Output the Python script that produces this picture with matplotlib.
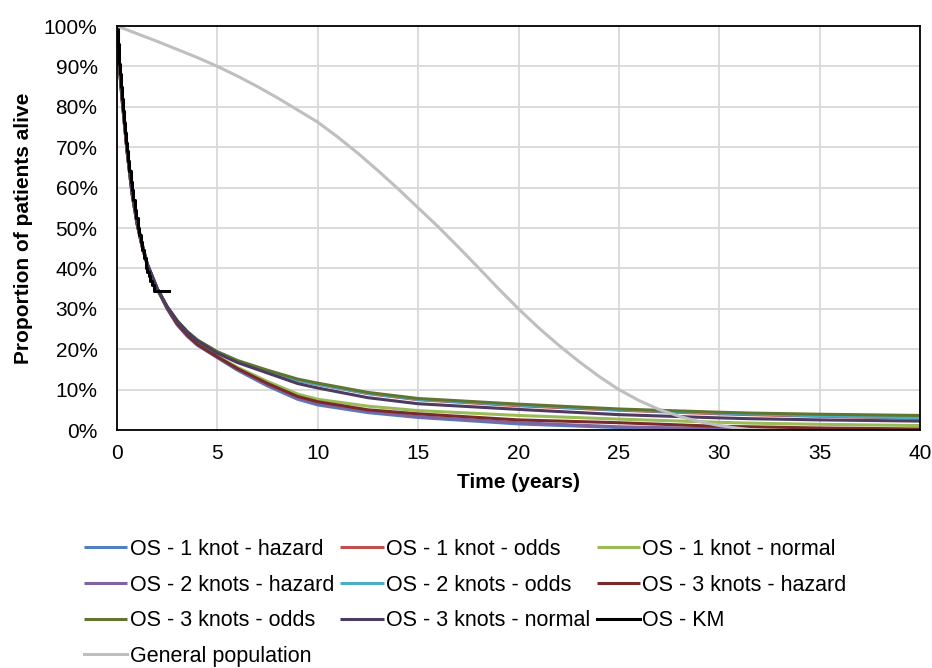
import matplotlib.pyplot as plt
import numpy as np

plt.rcParams["font.family"] = ["Liberation Sans", "DejaVu Sans"]

# model time grid (years) and survival (%)
TIME = [0, 0.1, 0.25, 0.5, 0.75, 1, 1.25, 1.5, 2, 2.5, 3, 3.5, 4, 5, 6, 7.5, 9, 10, 12.5, 15, 20, 25, 30, 31.5, 35, 40]

OS_1K_HAZARD = [100, 91, 82, 69, 58.5, 51, 45.5, 41, 35, 30, 26, 23.2, 21, 17.9, 14.8, 10.9, 7.6, 6.2, 4.3, 3.1, 1.5, 0.6, 0.2, 0.0, np.nan, np.nan]
OS_1K_ODDS = [100, 91.5, 83, 70, 59, 51.5, 46, 41.2, 35, 30.5, 27, 24.3, 22.2, 19.2, 17.0, 14.6, 12.3, 11.3, 9.0, 7.5, 6.0, 4.9, 4.0, 3.8, 3.4, 2.9]
OS_1K_NORMAL = [100, 91, 82, 69, 58.5, 51, 45.5, 41, 35, 30.3, 26.5, 23.8, 21.5, 18.3, 15.5, 12.0, 8.9, 7.6, 5.9, 4.8, 3.6, 2.7, 1.9, 1.7, 1.4, 1.1]
OS_2K_HAZARD = [100, 91, 82, 69, 58.5, 51, 45.5, 41, 35, 30, 26.1, 23.3, 21.1, 18.0, 15.0, 11.1, 7.9, 6.5, 4.6, 3.3, 1.8, 0.8, 0.3, 0.0, np.nan, np.nan]
OS_2K_ODDS = [100, 91.5, 83, 70, 59, 51.5, 46, 41.2, 35, 30.5, 27, 24.3, 22.2, 19.2, 17.0, 14.6, 12.3, 11.3, 9.1, 7.6, 6.2, 5.0, 4.2, 4.0, 3.5, 3.0]
OS_3K_HAZARD = [100, 91, 82, 69, 58.5, 51, 45.5, 41, 35, 30.2, 26.3, 23.5, 21.2, 18.1, 15.2, 11.5, 8.3, 7.0, 5.0, 4.0, 2.5, 1.8, 0.9, 0.8, 0.5, 0.25]
OS_3K_ODDS = [100, 91.5, 83, 70, 59, 51.5, 46, 41.2, 35, 30.5, 27, 24.4, 22.3, 19.4, 17.2, 14.8, 12.6, 11.6, 9.3, 7.8, 6.4, 5.2, 4.4, 4.2, 3.9, 3.6]
OS_3K_NORMAL = [100, 91.5, 83, 70, 59, 51.5, 46, 41.2, 35, 30.5, 27, 24.2, 22.1, 19.0, 16.7, 14.1, 11.5, 10.4, 8.0, 6.5, 5.1, 3.8, 3.0, 2.8, 2.5, 2.2]

# Kaplan-Meier
KM_TIME = [0, 0.03, 0.06, 0.09, 0.12, 0.16, 0.2, 0.25, 0.3, 0.35, 0.4, 0.45, 0.5, 0.56, 0.62, 0.69,
           0.75, 0.82, 0.89, 0.96, 1.03, 1.1, 1.18, 1.26, 1.34, 1.42, 1.5, 1.58, 1.66, 1.74, 1.83, 2.58]
KM_SURV = [100, 98, 95.5, 93, 90.5, 88, 85, 82, 79, 76, 73.5, 71, 69, 66.5, 64, 61.5,
           59.5, 57, 54.5, 52.5, 50, 48.2, 46.5, 44.5, 42.5, 40, 39, 38, 37, 36, 34.4, 34.4]

# general population
GP_TIME = [0, 1, 2, 3, 4, 5, 6, 7, 8, 9, 10, 11, 12, 13, 14, 15, 16, 17, 18, 19, 20,
           21, 22, 23, 24, 25, 26, 27, 28, 29, 30, 31, 31.8]
GP_SURV = [100, 98.1, 96.2, 94.2, 92.2, 90.0, 87.6, 85.0, 82.2, 79.2, 76.2, 72.5, 68.5, 64.2, 59.7, 55.0, 50.3, 45.3, 40.2, 35.0, 30.0,
           25.3, 21.0, 17.0, 13.3, 10.0, 7.3, 5.1, 3.4, 2.1, 1.1, 0.4, 0.0]

SERIES = [
    ("OS - 1 knot - hazard", OS_1K_HAZARD, "#4F81BD"),
    ("OS - 1 knot - odds", OS_1K_ODDS, "#C0504D"),
    ("OS - 1 knot - normal", OS_1K_NORMAL, "#9BBB59"),
    ("OS - 2 knots - hazard", OS_2K_HAZARD, "#8064A2"),
    ("OS - 2 knots - odds", OS_2K_ODDS, "#4BACC6"),
    ("OS - 3 knots - hazard", OS_3K_HAZARD, "#772C2A"),
    ("OS - 3 knots - odds", OS_3K_ODDS, "#5F7530"),
    ("OS - 3 knots - normal", OS_3K_NORMAL, "#4D3B62"),
]

fig = plt.figure(figsize=(9.32, 6.68), dpi=100)
ax = fig.add_axes([117 / 932, 1 - 430 / 668, (920 - 117) / 932, (430 - 26) / 668])

handles = {}
for name, values, color in SERIES:
    (h,) = ax.plot(TIME, values, color=color, linewidth=2.2, label=name, solid_capstyle="butt")
    handles[name] = h
(h,) = ax.plot(KM_TIME, KM_SURV, color="black", linewidth=2.2, drawstyle="steps-post", label="OS - KM")
handles["OS - KM"] = h
(h,) = ax.plot(GP_TIME, GP_SURV, color="#BFBFBF", linewidth=2.2, label="General population")
handles["General population"] = h

ax.set_xlim(0, 40)
ax.set_ylim(0, 100)
ax.set_xticks(np.arange(0, 41, 5))
ax.set_yticks(np.arange(0, 101, 10))
ax.set_yticklabels([f"{v}%" for v in range(0, 101, 10)])
ax.tick_params(axis="both", length=0, labelsize=15)
ax.tick_params(axis="y", pad=14)
ax.tick_params(axis="x", pad=10)
ax.grid(color="#D9D9D9", linewidth=1.3)
ax.set_axisbelow(True)
for spine in ax.spines.values():
    spine.set_color("black")
    spine.set_linewidth(1.3)

ax.set_xlabel("Time (years)", fontsize=15, fontweight="bold", labelpad=7)
ax.set_ylabel("Proportion of patients alive", fontsize=15, fontweight="bold", labelpad=8)

# matplotlib fills legend columns first, so reorder to read row by row
legend_order = [
    "OS - 1 knot - hazard", "OS - 2 knots - hazard", "OS - 3 knots - odds", "General population",
    "OS - 1 knot - odds", "OS - 2 knots - odds", "OS - 3 knots - normal",
    "OS - 1 knot - normal", "OS - 3 knots - hazard", "OS - KM",
]
fig.legend(
    [handles[n] for n in legend_order],
    legend_order,
    loc="upper left",
    bbox_to_anchor=(84 / 932, 1 - 539 / 668),
    ncol=3,
    frameon=False,
    fontsize=15.5,
    handlelength=2.0,
    handletextpad=0.12,
    columnspacing=0.3,
    labelspacing=0.68,
    borderaxespad=0,
    borderpad=0,
)

fig.savefig("out.png", dpi=100)
